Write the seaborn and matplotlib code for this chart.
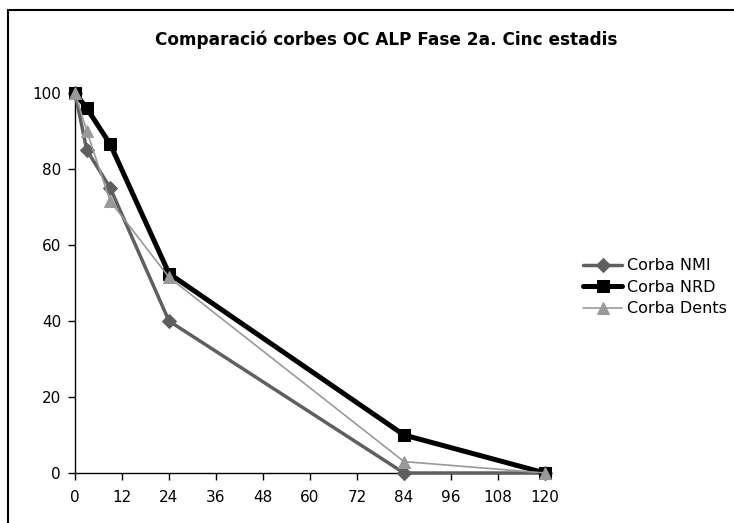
import matplotlib
matplotlib.use("Agg")
import matplotlib.pyplot as plt
import seaborn as sns
import pandas as pd
from matplotlib.patches import Rectangle

hours = [0, 3, 9, 24, 84, 120]
nmi = [100, 85, 75, 40, 0, 0]
nrd = [100, 96, 86.5, 52.5, 10, 0]
dents = [100, 90, 71.5, 51.5, 3, 0]
series_names = ["Corba NMI", "Corba NRD", "Corba Dents"]
xticks = list(range(0, 121, 12))
yticks = [0, 20, 40, 60, 80, 100]
title = "Comparació corbes OC ALP Fase 2a. Cinc estadis"

sns.set_theme(style="white")
plt.rcParams['font.family'] = ['DejaVu Sans']
plt.rcParams['text.color'] = 'black'

df = pd.DataFrame({
    "x": hours * 3,
    "y": nmi + nrd + dents,
    "serie": sum([[n] * len(hours) for n in series_names], []),
})

fig = plt.figure(figsize=(7.34, 5.23), dpi=100)
ax = fig.add_axes([75/734, 1-473/523, 470/734, 380/523])

styles = {
    "Corba NMI": dict(color="#5f5f5f", lw=2.5, marker="D", ms=7),
    "Corba NRD": dict(color="#000000", lw=3.6, marker="s", ms=9),
    "Corba Dents": dict(color="#999999", lw=1.2, marker="^", ms=9),
}
for name in series_names:
    st = styles[name]
    sub = df[df.serie == name]
    sns.lineplot(data=sub, x="x", y="y", ax=ax, color=st["color"], linewidth=st["lw"],
                 marker=st["marker"], markersize=st["ms"], markeredgecolor=st["color"],
                 label=name, clip_on=False, zorder=3)

ax.set_xlim(0, 120)
ax.set_ylim(0, 100)
ax.set_xticks(xticks)
ax.set_yticks(yticks)
ax.set_xlabel("")
ax.set_ylabel("")
for s in ["top", "right"]:
    ax.spines[s].set_visible(False)
for s in ["left", "bottom"]:
    ax.spines[s].set_color("black")
    ax.spines[s].set_linewidth(1.0)
ax.tick_params(axis="both", which="both", direction="out", length=5, width=1,
               color="black", labelsize=11, labelcolor="black", bottom=True, left=True)
ax.tick_params(axis="x", pad=7)
ax.tick_params(axis="y", pad=5)

leg = ax.legend(loc="upper left", bbox_to_anchor=(577/734, 1-252/523),
                bbox_transform=fig.transFigure, frameon=False, fontsize=11.5,
                handlelength=2.4, handletextpad=0.3, labelspacing=0.4, borderaxespad=0)
for t in leg.get_texts():
    t.set_color("black")

fig.text(386/734, 1-40/523, title, ha="center", va="center", fontsize=12.2,
         fontweight="bold", color="black")

fig.patches.append(Rectangle((8/734, -0.1), 1.2, 1 - 10/523 + 0.1, transform=fig.transFigure,
                             fill=False, edgecolor="black", linewidth=1.5, zorder=10))

fig.savefig("out.png", dpi=100)
